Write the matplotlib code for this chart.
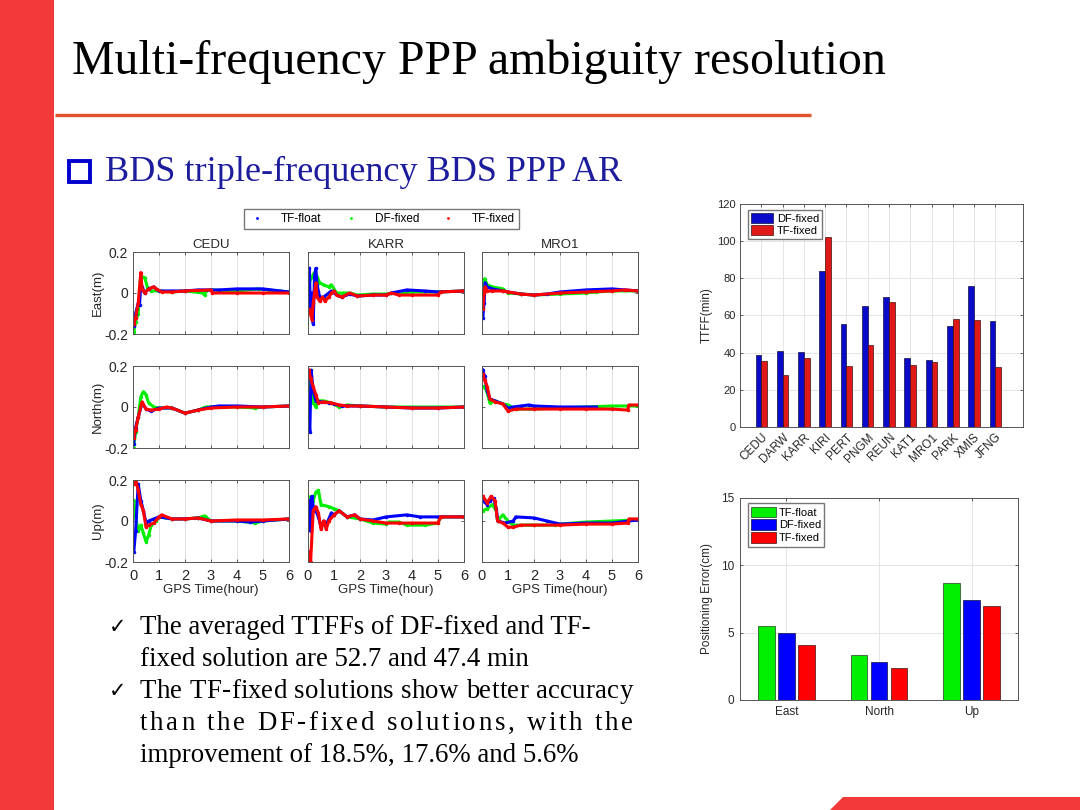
import matplotlib
matplotlib.use('Agg')
import matplotlib.pyplot as plt
from matplotlib.patches import Rectangle, Polygon, Patch
from matplotlib.lines import Line2D
from matplotlib.textpath import TextToPath
from matplotlib.font_manager import FontProperties
import numpy as np

W, H = 1080, 810

# ---------------- data ----------------
stations = ['CEDU', 'DARW', 'KARR', 'KIRI', 'PERT', 'PNGM', 'REUN', 'KAT1', 'MRO1', 'PARK', 'XMIS', 'JFNG']
ttff_df_fixed = [38.5, 40.8, 40.5, 84.0, 55.5, 65.0, 69.8, 37.0, 35.8, 54.5, 75.8, 57.2]
ttff_tf_fixed = [35.5, 27.8, 37.2, 102.0, 32.7, 44.0, 67.5, 33.3, 35.2, 58.2, 57.5, 32.3]

components = ['East', 'North', 'Up']
err_tf_float = [5.5, 3.35, 8.7]
err_df_fixed = [5.0, 2.85, 7.45]
err_tf_fixed = [4.05, 2.35, 7.0]

panel_stations = ['CEDU', 'KARR', 'MRO1']
panel_ylabels = ['East(m)', 'North(m)', 'Up(m)']
hour_ticks = [0, 1, 2, 3, 4, 5, 6]
pos_ticks = [-0.2, 0, 0.2]

# time series samples: (hour, metre)
cedu_e_float = [(0.03,-0.16),(0.1,-0.1),(0.2,-0.05),(0.25,-0.06),(0.3,0.04),(0.35,0.03),(0.45,0.0),(0.6,0.02),(0.8,0.03),(1.0,0.01),(1.5,0.01),(2.0,0.01),(2.5,0.015),(3.0,0.015),(3.3,0.015),(4.0,0.02),(5.0,0.02),(6.0,0.005)]
cedu_e_dfix = [(0.03,-0.19),(0.1,-0.14),(0.2,-0.1),(0.28,0.06),(0.35,0.08),(0.45,0.075),(0.55,0.03),(0.7,0.01),(1.0,0.01),(1.5,0.005),(2.0,0.01),(2.7,0.0),(2.75,-0.01),(2.8,0.01),(3.0,0.015),(4.0,0.01),(4.8,0.02),(5.2,0.015),(6.0,0.005)]
cedu_e_tfix = [(0.03,-0.15),(0.1,-0.12),(0.2,-0.05),(0.3,0.1),(0.35,0.02),(0.45,0.0),(0.6,0.02),(0.8,0.03),(0.9,0.02),(1.1,0.005),(1.5,0.005),(2.0,0.01),(3.0,0.015),(3.05,0.0),(4.0,0.0),(5.0,0.0),(6.0,0.0)]

karr_e_float = [(0.05,0.12),(0.1,-0.1),(0.15,0.0),(0.2,-0.15),(0.25,0.08),(0.3,0.12),(0.35,0.04),(0.45,-0.02),(0.6,-0.02),(0.8,0.0),(0.9,0.01),(1.1,-0.01),(1.3,-0.02),(1.6,-0.005),(1.9,-0.015),(2.5,-0.01),(3.0,-0.01),(3.2,0.0),(3.8,0.015),(4.5,0.01),(5.0,0.005),(6.0,0.01)]
karr_e_dfix = [(0.05,0.05),(0.15,0.08),(0.25,0.1),(0.35,0.08),(0.45,0.05),(0.6,0.04),(0.8,0.03),(0.9,0.04),(1.1,0.0),(1.3,0.0),(1.6,0.0),(1.9,-0.01),(2.5,-0.005),(3.0,-0.005),(4.0,0.005),(5.0,0.005),(6.0,0.01)]
karr_e_tfix = [(0.05,-0.08),(0.15,-0.13),(0.2,-0.05),(0.3,0.05),(0.35,-0.02),(0.45,-0.04),(0.55,-0.02),(0.65,-0.04),(0.8,-0.02),(0.9,0.0),(1.0,0.01),(1.1,-0.01),(1.3,-0.02),(1.6,0.0),(1.9,-0.015),(2.5,-0.01),(3.0,-0.01),(3.2,0.0),(3.5,-0.01),(4.0,-0.01),(5.0,-0.01),(5.1,0.005),(6.0,0.01)]

mro1_e_float = [(0.03,-0.12),(0.08,-0.05),(0.12,0.05),(0.2,0.03),(0.4,0.02),(0.8,0.01),(1.0,0.005),(1.5,-0.005),(2.0,-0.01),(2.5,-0.005),(3.0,0.005),(4.0,0.015),(5.0,0.02),(6.0,0.01)]
mro1_e_dfix = [(0.03,-0.03),(0.1,0.07),(0.2,0.04),(0.4,0.03),(0.8,0.02),(1.0,0.0),(1.5,-0.005),(2.0,-0.01),(3.0,-0.005),(4.0,0.0),(4.4,0.005),(5.0,0.01),(6.0,0.01)]
mro1_e_tfix = [(0.03,-0.08),(0.08,0.0),(0.12,0.03),(0.2,0.01),(0.4,0.01),(0.8,0.01),(1.0,0.005),(1.5,-0.005),(2.0,-0.01),(3.0,0.0),(4.0,0.005),(5.0,0.01),(5.5,0.015),(6.0,0.01)]

cedu_n_float = [(0.02,-0.18),(0.1,-0.1),(0.2,-0.05),(0.35,0.02),(0.5,-0.01),(0.7,-0.02),(1.0,-0.005),(1.5,-0.005),(2.0,-0.03),(2.5,-0.015),(3.0,0.0),(3.3,0.005),(4.0,0.005),(5.0,0.0),(6.0,0.005)]
cedu_n_dfix = [(0.02,-0.2),(0.1,-0.12),(0.2,-0.05),(0.3,0.05),(0.4,0.075),(0.5,0.06),(0.6,0.02),(0.8,0.0),(1.0,-0.005),(1.5,-0.005),(2.0,-0.03),(2.5,-0.015),(2.8,0.0),(3.0,0.0),(4.0,0.0),(4.7,-0.005),(5.0,0.0),(6.0,0.005)]
cedu_n_tfix = [(0.02,-0.15),(0.1,-0.11),(0.2,-0.05),(0.35,0.025),(0.5,-0.01),(0.7,-0.015),(1.0,-0.01),(1.3,0.0),(1.5,-0.005),(2.0,-0.03),(2.5,-0.015),(3.0,-0.005),(4.0,0.0),(5.0,0.0),(6.0,0.005)]

karr_n_float = [(0.03,-0.05),(0.07,-0.12),(0.12,0.18),(0.2,0.08),(0.3,0.03),(0.5,0.025),(0.8,0.02),(1.0,0.015),(1.3,0.005),(2.0,0.005),(3.0,0.0),(4.0,-0.005),(5.0,-0.005),(6.0,0.0)]
karr_n_dfix = [(0.03,0.08),(0.1,0.15),(0.2,0.02),(0.3,0.0),(0.4,0.03),(0.6,0.03),(0.9,0.02),(1.2,0.0),(1.5,0.01),(2.0,0.005),(3.0,0.0),(4.0,0.0),(5.0,0.0),(6.0,0.0)]
karr_n_tfix = [(0.03,0.18),(0.1,0.14),(0.2,0.1),(0.3,0.06),(0.4,0.02),(0.6,0.025),(0.9,0.02),(1.2,0.01),(1.5,0.005),(2.0,0.005),(3.0,0.0),(4.0,-0.005),(5.0,-0.005),(6.0,0.0)]

mro1_n_float = [(0.03,0.18),(0.1,0.15),(0.2,0.08),(0.3,0.04),(0.5,0.03),(0.8,0.015),(1.0,-0.005),(1.2,0.0),(1.5,0.005),(1.8,0.01),(2.0,0.005),(3.0,0.0),(4.0,0.0),(4.4,0.0)]
mro1_n_dfix = [(0.03,0.1),(0.1,0.1),(0.2,0.07),(0.3,0.02),(0.5,0.03),(0.8,0.015),(1.0,0.01),(1.3,-0.01),(2.0,-0.01),(3.0,-0.005),(4.0,0.0),(5.0,0.005),(6.0,0.005)]
mro1_n_tfix = [(0.03,0.16),(0.1,0.13),(0.2,0.1),(0.3,0.04),(0.5,0.025),(0.8,0.015),(1.0,-0.02),(1.3,-0.01),(2.0,-0.01),(3.0,-0.01),(4.0,-0.01),(5.0,-0.01),(5.6,-0.015),(5.65,0.01),(6.0,0.01)]

cedu_u_float = [(0.03,-0.15),(0.1,-0.05),(0.2,0.18),(0.3,0.1),(0.4,0.05),(0.5,-0.01),(0.6,0.0),(0.8,0.01),(1.0,0.02),(1.5,0.01),(2.0,0.01),(2.5,0.015),(3.0,0.0),(4.0,0.0),(4.5,-0.005),(5.0,0.0),(6.0,0.01)]
cedu_u_dfix = [(0.03,0.1),(0.1,0.02),(0.2,-0.05),(0.3,-0.02),(0.4,-0.06),(0.5,-0.1),(0.6,-0.07),(0.7,-0.02),(0.9,0.0),(1.0,0.02),(1.5,0.01),(2.0,0.01),(2.5,0.015),(2.75,0.025),(3.0,0.0),(4.0,0.0),(4.7,-0.01),(5.0,0.0),(6.0,0.01)]
cedu_u_tfix = [(0.03,0.18),(0.1,0.2),(0.2,0.15),(0.3,0.08),(0.4,0.05),(0.5,-0.03),(0.6,-0.02),(0.8,-0.01),(1.0,0.02),(1.1,0.03),(1.5,0.01),(2.0,0.01),(2.5,0.015),(3.0,0.0),(4.0,0.005),(5.0,0.005),(6.0,0.01)]

karr_u_float = [(0.03,0.1),(0.1,-0.05),(0.15,0.12),(0.2,0.07),(0.3,0.05),(0.4,0.02),(0.5,-0.03),(0.6,0.0),(0.7,-0.02),(0.9,0.04),(1.0,0.03),(1.2,0.05),(1.5,0.02),(1.8,0.03),(2.0,0.01),(2.5,0.005),(3.0,0.02),(3.8,0.03),(4.3,0.02),(5.0,0.02),(6.0,0.02)]
karr_u_dfix = [(0.03,0.1),(0.1,0.12),(0.2,0.1),(0.3,0.14),(0.4,0.15),(0.5,0.08),(0.8,0.07),(1.0,0.06),(1.2,0.05),(1.5,0.02),(2.0,0.01),(2.5,-0.01),(3.0,-0.015),(3.1,-0.005),(3.5,-0.005),(3.8,-0.02),(4.5,-0.02),(5.0,-0.01),(5.1,0.02),(6.0,0.02)]
karr_u_tfix = [(0.03,-0.15),(0.1,-0.2),(0.2,0.05),(0.3,0.07),(0.4,0.04),(0.5,-0.04),(0.6,0.0),(0.7,-0.04),(0.8,0.0),(1.0,0.03),(1.2,0.05),(1.5,0.02),(1.8,0.03),(2.0,0.01),(2.5,0.0),(3.0,-0.01),(3.5,-0.01),(4.0,-0.01),(5.0,-0.01),(5.1,0.02),(6.0,0.02)]

mro1_u_float = [(0.03,0.1),(0.2,0.08),(0.3,0.1),(0.45,0.11),(0.55,0.06),(0.6,0.0),(0.9,-0.01),(1.2,0.0),(1.3,0.02),(2.0,0.015),(2.5,0.0),(3.0,-0.015),(4.0,-0.01),(5.0,-0.01),(6.0,0.005)]
mro1_u_dfix = [(0.03,0.05),(0.2,0.06),(0.4,0.08),(0.55,0.05),(0.6,0.0),(0.8,0.03),(1.0,0.0),(1.2,-0.02),(2.0,-0.02),(2.8,-0.02),(3.0,-0.015),(4.0,-0.005),(5.0,0.0),(6.0,0.005)]
mro1_u_tfix = [(0.03,0.12),(0.2,0.09),(0.35,0.12),(0.5,0.1),(0.6,0.0),(0.8,-0.01),(1.0,-0.03),(1.2,-0.03),(1.5,-0.02),(2.0,-0.02),(3.0,-0.02),(4.0,-0.015),(5.0,-0.015),(5.6,-0.01),(5.65,0.01),(6.0,0.01)]

panel_series = [
    [(cedu_e_float, cedu_e_dfix, cedu_e_tfix), (karr_e_float, karr_e_dfix, karr_e_tfix), (mro1_e_float, mro1_e_dfix, mro1_e_tfix)],
    [(cedu_n_float, cedu_n_dfix, cedu_n_tfix), (karr_n_float, karr_n_dfix, karr_n_tfix), (mro1_n_float, mro1_n_dfix, mro1_n_tfix)],
    [(cedu_u_float, cedu_u_dfix, cedu_u_tfix), (karr_u_float, karr_u_dfix, karr_u_tfix), (mro1_u_float, mro1_u_dfix, mro1_u_tfix)],
]

# ---------------- styling ----------------
SERIF = 'Liberation Serif'
SANS = 'Liberation Sans'
RED_BAR = '#f23a3a'
LINE_ORANGE = '#e0512c'
SUB_BLUE = '#1c1c9c'
C_BLUE = '#0000ff'
C_GREEN = '#00ee00'
C_RED = '#ff0000'
TXT = '#262626'

fig = plt.figure(figsize=(W / 100, H / 100), dpi=100)
fig.patch.set_facecolor('white')


def px_axes(x0, y0, x1, y1, **kw):
    return fig.add_axes([x0 / W, 1 - y1 / H, (x1 - x0) / W, (y1 - y0) / H], **kw)


# background / slide layer
bg = fig.add_axes([0, 0, 1, 1], zorder=0)
bg.set_xlim(0, W)
bg.set_ylim(H, 0)
bg.axis('off')
bg.add_patch(Rectangle((0, 0), 54, H, color=RED_BAR, lw=0))
bg.plot([55, 811], [115, 115], color=LINE_ORANGE, lw=2.4, solid_capstyle='butt')
bg.add_patch(Polygon([(843, 797), (1080, 797), (1080, 810), (830, 810)], closed=True, color=RED_BAR, lw=0))

bg.text(72, 62, 'Multi-frequency PPP ambiguity resolution', family=SERIF, fontsize=34.5,
        color='black', ha='left', va='center')
bg.add_patch(Rectangle((69, 161), 21, 21, fill=False, edgecolor='#0000cc', lw=2.8))
bg.text(105, 172, 'BDS triple-frequency BDS PPP AR', family=SERIF, fontsize=26,
        color=SUB_BLUE, ha='left', va='center')

# bullets
bfs = 19.4
bprop = FontProperties(family=SERIF, size=bfs)
ttp = TextToPath()


def text_width_px(s):
    w, h, d = ttp.get_text_width_height_descent(s, bprop, ismath=False)
    return w * 100 / 72


def justified(s, x0, x1, y):
    widths = [text_width_px(c) for c in s]
    extra = (x1 - x0 - sum(widths)) / (len(s) - 1)
    x = x0
    for c, w in zip(s, widths):
        bg.text(x, y, c, fontproperties=bprop, color='black', ha='left', va='center')
        x += w + extra


bg.text(109, 627, '\u2713', family=['DejaVu Sans'], fontsize=15, color='black', ha='left', va='center')
bg.text(109, 691, '\u2713', family=['DejaVu Sans'], fontsize=15, color='black', ha='left', va='center')
bg.text(140, 627, 'The averaged TTFFs of DF-fixed and TF-', fontproperties=bprop, color='black', ha='left', va='center')
bg.text(140, 659, 'fixed solution are 52.7 and 47.4 min', fontproperties=bprop, color='black', ha='left', va='center')
justified('The TF-fixed solutions show better accuracy', 140, 633, 691)
justified('than the DF-fixed solutions, with the', 140, 633, 723)
bg.text(140, 756, 'improvement of 18.5%, 17.6% and 5.6%', fontproperties=bprop, color='black', ha='left', va='center')

# ---------------- left 3x3 grid ----------------
col_x = [(133, 289), (308, 464), (482, 638)]
row_y = [(252, 334), (366, 448), (480, 562)]
colors = [C_BLUE, C_GREEN, C_RED]
order = [1, 0, 2]  # draw green first, then blue, then red on top

for r in range(3):
    for c in range(3):
        ax = px_axes(col_x[c][0], row_y[r][0], col_x[c][1], row_y[r][1], zorder=2)
        for k in order:
            pts = panel_series[r][c][k]
            t = [p[0] for p in pts]
            y = [p[1] for p in pts]
            ax.plot(t, y, color=colors[k], lw=2.2, marker='.', ms=3)
        ax.set_xlim(0, 6)
        ax.set_ylim(-0.2, 0.2)
        ax.set_xticks(hour_ticks)
        ax.set_yticks(pos_ticks)
        ax.grid(True, axis='x', color='#dcdcdc', lw=0.6)
        ax.tick_params(direction='in', top=True, right=True, length=2.5, width=0.5,
                       colors=TXT, labelsize=10)
        ax.tick_params(axis='x', pad=5)
        for sp in ax.spines.values():
            sp.set_color('#555555')
            sp.set_linewidth(0.7)
        if c == 0:
            ax.set_yticklabels(['-0.2', '0', '0.2'], family=SANS, fontsize=10, color=TXT)
            ax.set_ylabel(panel_ylabels[r], family=SANS, fontsize=9.5, color=TXT, labelpad=0)
        else:
            ax.set_yticklabels([])
        if r == 2:
            ax.set_xticklabels([str(h) for h in hour_ticks], family=SANS, fontsize=10.5, color=TXT)
            ax.set_xlabel('GPS Time(hour)', family=SANS, fontsize=9.5, color=TXT, labelpad=1)
        else:
            ax.set_xticklabels([])
        if r == 0:
            ax.set_title(panel_stations[c], family=SANS, fontsize=9.5, color=TXT, pad=3)

leg_handles = [Line2D([], [], color=C_BLUE, marker='.', ls='none', ms=2),
               Line2D([], [], color=C_GREEN, marker='.', ls='none', ms=2),
               Line2D([], [], color=C_RED, marker='.', ls='none', ms=2)]
fig.legend(leg_handles, ['TF-float', 'DF-fixed', 'TF-fixed'], loc='center',
           bbox_to_anchor=(381.5 / W, 1 - 219 / H), ncol=3, frameon=True, fancybox=False,
           edgecolor='#555555', prop=FontProperties(family=SANS, size=8.5),
           handlelength=1.6, columnspacing=1.7, borderpad=0.3, handletextpad=1.2)

# ---------------- top right TTFF bars ----------------
ax1 = px_axes(740, 204, 1023, 427, zorder=2)
xpos = np.arange(1, len(stations) + 1)
bw = 0.27
ax1.bar(xpos - bw / 2, ttff_df_fixed, width=bw, color='#0a0ac8', edgecolor='#101040', lw=0.5,
        label='DF-fixed', zorder=3)
ax1.bar(xpos + bw / 2, ttff_tf_fixed, width=bw, color='#e01818', edgecolor='#401010', lw=0.5,
        label='TF-fixed', zorder=3)
ax1.set_xlim(0, 13.3)
ax1.set_ylim(0, 120)
ax1.set_yticks(range(0, 121, 20))
ax1.set_xticks(xpos)
ax1.set_xticklabels(stations, rotation=45, ha='right', rotation_mode='anchor',
                    family=SANS, fontsize=8.5, color=TXT)
ax1.set_yticklabels([str(v) for v in range(0, 121, 20)], family=SANS, fontsize=8, color=TXT)
ax1.set_ylabel('TTFF(min)', family=SANS, fontsize=8.5, color=TXT, labelpad=3)
ax1.grid(True, color='#e0e0e0', lw=0.6, zorder=0)
ax1.set_axisbelow(True)
ax1.tick_params(direction='in', top=True, right=True, length=2.5, width=0.5, colors=TXT, pad=3)
for sp in ax1.spines.values():
    sp.set_color('#555555')
    sp.set_linewidth(0.7)
ax1.legend(loc='upper left', bbox_to_anchor=(0.02, 0.985), frameon=True, fancybox=False,
           edgecolor='#555555', prop=FontProperties(family=SANS, size=8),
           handlelength=2.0, handleheight=1.0, borderpad=0.3, labelspacing=0.15, handletextpad=0.3,
           borderaxespad=0.2)

# ---------------- bottom right error bars ----------------
ax2 = px_axes(740, 498, 1018, 700, zorder=2)
cpos = np.arange(1, len(components) + 1)
bw2 = 0.18
off = 0.215
ax2.bar(cpos - off, err_tf_float, width=bw2, color=C_GREEN, edgecolor='#204020', lw=0.5, label='TF-float', zorder=3)
ax2.bar(cpos, err_df_fixed, width=bw2, color=C_BLUE, edgecolor='#101040', lw=0.5, label='DF-fixed', zorder=3)
ax2.bar(cpos + off, err_tf_fixed, width=bw2, color=C_RED, edgecolor='#401010', lw=0.5, label='TF-fixed', zorder=3)
ax2.set_xlim(0.5, 3.5)
ax2.set_ylim(0, 15)
ax2.set_yticks([0, 5, 10, 15])
ax2.set_xticks(cpos)
ax2.set_xticklabels(components, family=SANS, fontsize=8.5, color=TXT)
ax2.set_yticklabels(['0', '5', '10', '15'], family=SANS, fontsize=8.5, color=TXT)
ax2.set_ylabel('Positioning Error(cm)', family=SANS, fontsize=8.5, color=TXT, labelpad=6)
ax2.grid(True, color='#e0e0e0', lw=0.6, zorder=0)
ax2.set_axisbelow(True)
ax2.tick_params(direction='in', top=True, right=True, length=2.5, width=0.5, colors=TXT, pad=4)
for sp in ax2.spines.values():
    sp.set_color('#555555')
    sp.set_linewidth(0.7)
ax2.legend(loc='upper left', bbox_to_anchor=(0.02, 0.985), frameon=True, fancybox=False,
           edgecolor='#555555', prop=FontProperties(family=SANS, size=8),
           handlelength=2.2, handleheight=1.1, borderpad=0.3, labelspacing=0.15, handletextpad=0.3,
           borderaxespad=0.2)

fig.savefig('out.png', dpi=100, facecolor='white')
